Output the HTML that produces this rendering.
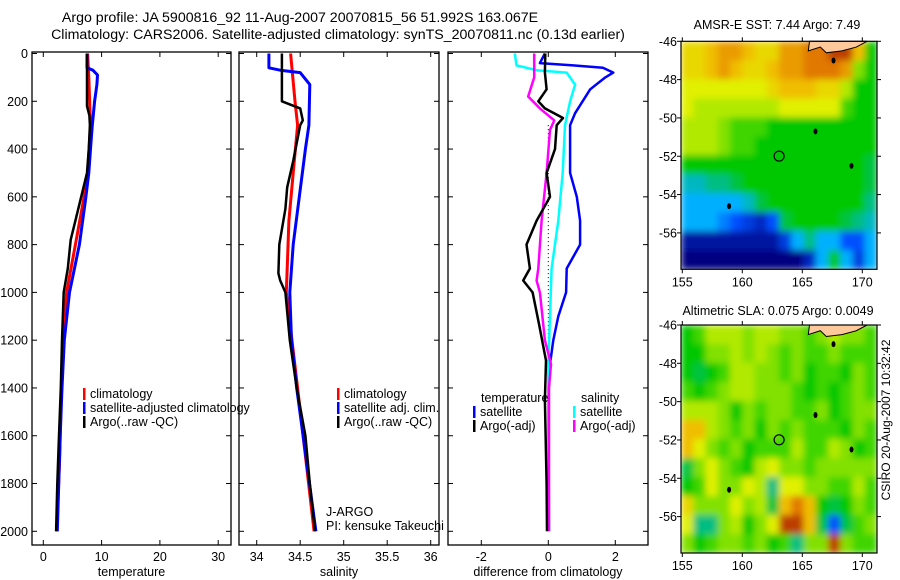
<!DOCTYPE html>
<html><head><meta charset="utf-8"><style>
html,body{margin:0;padding:0;background:#fff;}
svg{display:block;font-family:"Liberation Sans",sans-serif;}
</style></head><body>
<svg id="fig" width="900" height="580" viewBox="0 0 900 580">
<defs>
<filter id="blur" x="-5%" y="-5%" width="110%" height="110%"><feGaussianBlur stdDeviation="3.5" edgeMode="duplicate"/></filter>
<clipPath id="clipTop"><rect x="681" y="41.3" width="196" height="228"/></clipPath>
<clipPath id="clipBot"><rect x="681" y="325" width="196" height="228"/></clipPath>
</defs>
<text x="300" y="22" font-size="14.2" text-anchor="middle">Argo profile: JA 5900816_92 11-Aug-2007 20070815_56 51.992S 163.067E</text>
<text x="338" y="39" font-size="14.2" text-anchor="middle">Climatology: CARS2006. Satellite-adjusted climatology: synTS_20070811.nc (0.13d earlier)</text>
<text x="777" y="29" font-size="12.5" text-anchor="middle">AMSR-E SST: 7.44  Argo: 7.49</text>
<text x="778" y="315" font-size="12.5" text-anchor="middle">Altimetric SLA: 0.075  Argo: 0.0049</text>
<text transform="translate(890,420) rotate(-90)" font-size="12" text-anchor="middle">CSIRO 20-Aug-2007 10:32:42</text>
</svg>
<script>
// ---- data ----
const tempArgoDepth=[0,60,220,260,300,400,500,600,700,780,900,1000,1200,1400,1600,1800,2000];
const tempArgo=[7.5,7.5,7.5,7.9,8.0,7.8,7.5,6.5,5.5,4.7,4.2,3.5,3.2,3.0,2.7,2.4,2.2];
const tempClimDepth=[0,100,300,500,600,800,1000,1200,1400,1700,2000];
const tempClim=[7.6,7.8,8.1,7.6,7.0,5.5,4.0,3.4,3.1,2.8,2.3];
const tempSatDepth=[0,60,70,90,130,200,300,400,500,600,800,1000,1200,1400,1600,2000];
const tempSat=[7.5,7.5,8.5,9.3,9.2,8.8,8.4,8.1,7.8,7.3,6.2,4.5,3.6,3.2,2.9,2.4];
const salArgoDepth=[0,200,230,280,300,450,560,650,800,920,950,1000,1200,1400,1600,1800,2000];
const salArgo=[34.29,34.29,34.5,34.53,34.5,34.42,34.35,34.33,34.26,34.25,34.27,34.33,34.38,34.46,34.56,34.61,34.67];
const salClimDepth=[0,200,300,500,700,900,1000,1400,2000];
const salClim=[34.39,34.44,34.47,34.42,34.37,34.35,34.34,34.47,34.66];
const salSatDepth=[0,60,70,80,130,300,400,600,800,1000,1200,1400,2000];
const salSat=[34.14,34.14,34.27,34.5,34.61,34.6,34.56,34.49,34.42,34.38,34.4,34.46,34.68];
const dTempArgoDepth=[0,80,150,200,230,270,300,400,500,600,700,800,900,950,1000,1130,1285,1450,1800,2000];
const dTempArgo=[-0.09,-0.1,-0.05,-0.3,-0.1,0.44,0.25,0.2,-0.05,0.05,-0.35,-0.65,-0.55,-0.75,-0.47,-0.28,-0.07,-0.1,-0.05,-0.04];
const dSalSatDepth=[0,50,70,80,130,200,300,500,700,900,1100,1300,1500,2000];
const dSalSat=[-1.0,-0.95,-0.35,0.55,0.8,0.65,0.5,0.43,0.3,0.1,0.05,0.0,0.0,0.02];
const dSalArgoDepth=[0,100,180,230,280,320,500,700,900,950,1000,1200,1300,1400,2000];
const dSalArgo=[-0.42,-0.42,-0.6,-0.25,0.18,0.05,-0.05,-0.2,-0.3,-0.35,-0.25,-0.1,0.08,0.02,0.02];
const dTempSatDepth=[0,40,50,60,80,100,150,250,300,400,500,600,700,800,900,1000,1100,1200,1300,1400,2000];
const dTempSat=[-0.1,-0.25,0.74,1.63,1.94,1.7,1.25,0.8,0.65,0.65,0.65,0.85,0.95,0.95,0.55,0.53,0.3,0.15,0.05,0.0,0.02];
const depthTicks=[0,200,400,600,800,1000,1200,1400,1600,1800,2000];
const tempTicks=[0,10,20,30];
const salTicks=[34,34.5,35,35.5,36];
const diffTicks=[-2,0,2];
const latTicks=[-46,-48,-50,-52,-54,-56];
const lonTicks=[155,160,165,170];
const sstGrid=[
[7.5,7.5,8,8.5,8.5,8,7.5,7.5,8.5,8.5,9,9,9.5,9.5,8,5],
[7.5,7.5,8,8.5,8,7.5,7.5,8,8.5,8.5,9,9,9,8.5,6,5],
[7,7,7,7,7,7,7,7.5,8,8,8,7.5,7.5,6.5,5,5],
[7,6.5,6.5,6.5,6.5,6.5,6.5,6.5,7,7,7,7,7,5.5,5,5],
[6.5,6.5,6.5,6,5.5,5.5,5.5,5,5,5,5,5,5,5,5,5],
[6.5,6.5,6.5,6,5.5,5.5,5,5,5,5,5,5,5,5,5,5],
[5,5,5,5,5,5,5,5,5,5,5,5,5,5,5,4.5],
[3.5,3.5,4,4,4.5,5,5,5,5,5,5,5,5,5,5,4.5],
[3,3,3,3,3,3.5,4.5,5,5,5,5,5,5,5,5,4],
[3,3,3,2.5,2,1.5,1,2,4.5,5,5,5,5,4.5,4,3.5],
[0.5,0.5,0.5,0.5,0.5,0.5,0.5,0.5,1.5,3,4,3,3,2,2,3],
[0,0,0,0,0,0,0,0,0,0,1,3,5,3,1.5,3]];
const slaGrid=[
[5,5.5,6.5,6.5,6.5,6,6.5,6.5,6,6,5.5,6,6.5,6,6,5.5],
[5,5,6,6,6.5,6,6.5,6,5.5,6,5.5,5.5,6,5.5,5.5,5.5],
[5,4.5,5,5.5,6.5,6.5,6,6,5.5,6,5,5.5,5.5,5,6,5.5],
[5.5,5,5.5,6,6.5,6.5,6,6,6,5.5,5,5.5,5,5.5,6,5.5],
[6.5,6.5,6.5,6,5,6,5.5,6,6,5.5,5.5,6,5,5.5,6,6],
[8,8,6.5,6,5.5,6,5,6,5.5,6,5.5,5.5,5.5,5,6,5.5],
[8,7,6,5.5,6,5,5.5,5.5,5.5,6.5,5.5,5.5,6.5,6,5,5.5],
[4.5,6,7,6,5.5,5,6.5,7,6,6,5.5,6,6,6,6,6],
[5,5.5,7,6,6,7,6.5,4,7,7,6,6,5.5,5.5,6.5,5.5],
[7.5,6,6,6,7,6,6.5,4.5,8,9,8,5,4.5,5,6,5.5],
[7,4,4,6,6.5,5,6,7,9.5,9.5,8,4.5,2,4.5,5.5,6],
[6,5,5.5,6,6,5.5,6,5,5.5,4,6,6,9.5,6,5.5,5.5]];
const argoLon=163.067, argoLat=-51.992;

const NS="http://www.w3.org/2000/svg";
const svg=document.getElementById('fig');
function mk(tag,attrs,parent){const e=document.createElementNS(NS,tag);for(const k in attrs)e.setAttribute(k,attrs[k]);(parent||svg).appendChild(e);return e;}
const yD=d=>53.5+0.2389*d;
const Y0=52, Y1=545;

function panel(name,x0,x1,xfun,ticks,fmt,label,showY){
  const g=mk('g',{});
  
  
  const r=mk('rect',{x:x0,y:Y0,width:x1-x0,height:Y1-Y0,fill:'none',stroke:'#000','stroke-width':1.3},g);
  
  
  ticks.forEach(t=>{const x=xfun(t);
    mk('line',{x1:x,x2:x,y1:Y1,y2:Y1-5,stroke:'#000'},g);
    mk('line',{x1:x,x2:x,y1:Y0,y2:Y0+5,stroke:'#000'},g);
    const tx=mk('text',{x:x,y:Y1+16,'font-size':12.5,'text-anchor':'middle'},g);tx.textContent=fmt(t);
    
    
  });
  depthTicks.forEach(d=>{const y=yD(d);
    mk('line',{x1:x0,x2:x0+5,y1:y,y2:y,stroke:'#000'},g);
    mk('line',{x1:x1,x2:x1-5,y1:y,y2:y,stroke:'#000'},g);
    if(showY){const tx=mk('text',{x:x0-4,y:y+4.5,'font-size':12.5,'text-anchor':'end'},g);tx.textContent=d;
      
      }
  });
  const lb=mk('text',{x:(x0+x1)/2,y:Y1+31,'font-size':12.5,'text-anchor':'middle'},g);lb.textContent=label;
  
  
  return g;
}
function line(g,name,xs,ds,xfun,color,w){
  const pts=xs.map((v,i)=>xfun(v).toFixed(1)+','+yD(ds[i]).toFixed(1)).join(' ');
  const p=mk('polyline',{points:pts,fill:'none',stroke:color,'stroke-width':w,'stroke-linejoin':'round'},g);
  
  
}
function legend(g,name,x,y,color,text){
  const r=mk('rect',{x:x,y:y-10,width:2.5,height:12,fill:color},g);
  
  
  const t=mk('text',{x:x+7,y:y,'font-size':12.5},g);t.textContent=text;
  
  
}
const xT=t=>43.3+5.83*t;
const g1=panel('temperature-panel',32,231,xT,tempTicks,String,'temperature',true);
line(g1,'temp-climatology-line',tempClim,tempClimDepth,xT,'#f00',3);
line(g1,'temp-satellite-adjusted-line',tempSat,tempSatDepth,xT,'#00f',3);
line(g1,'temp-argo-line',tempArgo,tempArgoDepth,xT,'#000',2.5);
legend(g1,'legend-climatology',83,398,'#f00','climatology');
legend(g1,'legend-satellite-adjusted',83,412,'#00f','satellite-adjusted climatology');
legend(g1,'legend-argo',83,426,'#000','Argo(..raw -QC)');
const xS=s=>256.7+87*(s-34);
const g2=panel('salinity-panel',239,439,xS,salTicks,String,'salinity',false);
line(g2,'sal-climatology-line',salClim,salClimDepth,xS,'#f00',3);
line(g2,'sal-satellite-adjusted-line',salSat,salSatDepth,xS,'#00f',3);
line(g2,'sal-argo-line',salArgo,salArgoDepth,xS,'#000',2.5);
legend(g2,'legend-sal-climatology',337,398,'#f00','climatology');
legend(g2,'legend-sal-satellite',337,412,'#00f','satellite adj. clim.');
legend(g2,'legend-sal-argo',337,426,'#000','Argo(..raw -QC)');
const j1=mk('text',{x:326,y:516,'font-size':12.5},g2);j1.textContent='J-ARGO';


const j2=mk('text',{x:326,y:530,'font-size':12.5},g2);j2.textContent='PI: kensuke Takeuchi';


const xF=d=>548.3+33.5*d;
const g3=panel('difference-panel',448,648,xF,diffTicks,String,'difference from climatology',false);
const zl=mk('line',{x1:xF(0),x2:xF(0),y1:yD(300),y2:yD(1300),stroke:'#000','stroke-dasharray':'1,3'},g3);


line(g3,'diff-temp-satellite-line',dTempSat,dTempSatDepth,xF,'#00f',2.5);
line(g3,'diff-sal-satellite-line',dSalSat,dSalSatDepth,xF,'#0ff',2.5);
line(g3,'diff-sal-argo-line',dSalArgo,dSalArgoDepth,xF,'#f0f',2.5);
line(g3,'diff-temp-argo-line',dTempArgo,dTempArgoDepth,xF,'#000',2.5);
const lt=mk('text',{x:481,y:402,'font-size':12.5},g3);lt.textContent='temperature';


const ls=mk('text',{x:581,y:402,'font-size':12.5},g3);ls.textContent='salinity';


legend(g3,'legend-temp-satellite',473,416,'#00f','satellite');
legend(g3,'legend-temp-argo',473,430,'#000','Argo(-adj)');
legend(g3,'legend-sal-satellite-diff',573,416,'#0ff','satellite');
legend(g3,'legend-sal-argo-diff',573,430,'#f0f','Argo(-adj)');

const stops=[[0,[0,0,128]],[2,[0,80,255]],[3,[0,176,255]],[4,[0,190,130]],[5,[0,200,0]],[6,[130,225,0]],[7,[225,240,0]],[8,[240,190,0]],[9,[225,120,0]],[10,[150,0,0]]];
function cmap(v){for(let i=1;i<stops.length;i++){if(v<=stops[i][0]){const a=stops[i-1],b=stops[i],f=(v-a[0])/(b[0]-a[0]);const c=a[1].map((x,k)=>Math.round(x+(b[1][k]-x)*f));return 'rgb('+c+')';}}return 'rgb(150,0,0)';}
function map(name,grid,top,bot,clip){
  const L=681,R=877;
  const lonX=lo=>682.3+12*(lo-155);
  const yL=la=>top+(-46-la)*((bot-top)/11.9);
  const g=mk('g',{});
  
  
  const cg=mk('g',{'clip-path':'url(#'+clip+')'},g);
  const hg=mk('g',{filter:'url(#blur)'},cg);
  
  
  const rows=grid.length,cols=grid[0].length,cw=(R-L)/cols,ch=(bot-top)/rows;
  grid.forEach((row,i)=>row.forEach((v,j)=>{
    const c=mk('rect',{x:(L+j*cw).toFixed(2),y:(top+i*ch).toFixed(2),width:(cw+0.6).toFixed(2),height:(ch+0.6).toFixed(2),fill:cmap(v)},hg);
    
    
  }));
  const land=mk('polygon',{points:[[165.6,-46],[165.5,-46.5],[166.5,-46.3],[167,-46.6],[168.3,-46.5],[169.5,-46.3],[170.4,-46]].map(p=>lonX(p[0])+','+yL(p[1])).join(' '),fill:'#fdc89a',stroke:'#000','stroke-width':1},g);
  
  
  [[167.6,-47],[166.1,-50.7],[169.1,-52.5],[158.9,-54.6]].forEach(p=>{
    const e=mk('ellipse',{cx:lonX(p[0]),cy:yL(p[1]),rx:2,ry:3,fill:'#000'},g);
    
    
  });
  const ci=mk('circle',{cx:lonX(argoLon),cy:yL(argoLat),r:5,fill:'none',stroke:'#000','stroke-width':1.2},g);
  
  
  const fr=mk('rect',{x:L,y:top,width:R-L,height:bot-top,fill:'none',stroke:'#000','stroke-width':1.2},g);
  
  
  latTicks.forEach(la=>{const y=yL(la);
    mk('line',{x1:L-4,x2:L,y1:y,y2:y,stroke:'#000'},g);
    mk('line',{x1:R,x2:R+4,y1:y,y2:y,stroke:'#000'},g);
    const t=mk('text',{x:L-4,y:y+4.5,'font-size':12.5,'text-anchor':'end'},g);t.textContent=la;
    
    
  });
  lonTicks.forEach(lo=>{const x=lonX(lo);
    mk('line',{x1:x,x2:x,y1:top-4,y2:top,stroke:'#000'},g);
    mk('line',{x1:x,x2:x,y1:bot,y2:bot+4,stroke:'#000'},g);
    const t=mk('text',{x:x,y:bot+17,'font-size':12.5,'text-anchor':'middle'},g);t.textContent=lo;
    
    
  });
}
map('sst-map',sstGrid,41.3,269.3,'clipTop');
map('sla-map',slaGrid,325,553,'clipBot');
</script>
</body></html>
